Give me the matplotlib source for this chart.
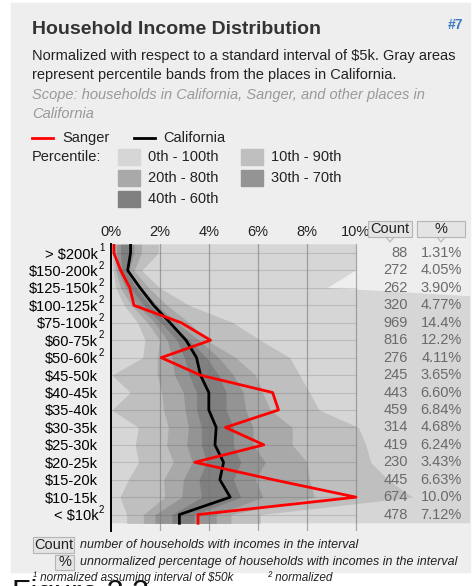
import matplotlib
matplotlib.use('Agg')
import matplotlib.pyplot as plt
import matplotlib.transforms as mtransforms
from matplotlib.patches import Rectangle, FancyBboxPatch, Polygon
from matplotlib.lines import Line2D

plt.rcParams['font.family'] = ['Liberation Sans', 'DejaVu Sans']

# income brackets, top to bottom
brackets = [r'> \$200k', r'\$150-200k', r'\$125-150k', r'\$100-125k', r'\$75-100k',
            r'\$60-75k', r'\$50-60k', r'\$45-50k', r'\$40-45k', r'\$35-40k',
            r'\$30-35k', r'\$25-30k', r'\$20-25k', r'\$15-20k', r'\$10-15k', r'< \$10k']
notes = ['1', '2', '2', '2', '2', '2', '2', '', '', '', '', '', '', '', '', '2']
counts = [88, 272, 262, 320, 969, 816, 276, 245, 443, 459, 314, 419, 230, 445, 674, 478]
pcts = ['1.31%', '4.05%', '3.90%', '4.77%', '14.4%', '12.2%', '4.11%', '3.65%',
        '6.60%', '6.84%', '4.68%', '6.24%', '3.43%', '6.63%', '10.0%', '7.12%']

# normalized percentages
sanger = [0.13, 0.41, 0.78, 0.95, 2.88, 4.07, 2.06, 3.65, 6.6, 6.84, 4.68, 6.24, 3.43, 6.63, 10.0, 3.56]
california = [0.81, 0.69, 1.2, 1.75, 2.42, 3.07, 3.5, 3.66, 4.0, 4.0, 4.3, 4.25, 4.6, 4.45, 4.87, 2.8]

# percentile bands across places in California
p0 = [0.0] * 16
p10 = [0.05, 0.1, 0.2, 0.55, 1.1, 1.4, 1.3, 0.05, 0.8, 0.04, 1.13, 1.0, 1.13, 0.72, 0.38, 0.65]
p20 = [0.15, 0.2, 0.4, 0.85, 1.5, 2.0, 1.9, 1.9, 2.08, 2.15, 2.35, 2.28, 2.55, 2.15, 2.2, 1.33]
p30 = [0.25, 0.3, 0.6, 1.1, 1.8, 2.3, 2.5, 2.6, 2.96, 3.03, 3.17, 3.1, 3.33, 2.96, 2.9, 1.8]
p40 = [0.4, 0.45, 0.8, 1.35, 2.05, 2.7, 3.0, 3.2, 3.5, 3.5, 3.7, 3.7, 3.9, 3.6, 3.7, 2.5]
p60 = [0.75, 0.6, 1.05, 1.6, 2.3, 3.2, 3.9, 4.4, 4.7, 4.7, 5.0, 5.0, 5.3, 5.0, 5.3, 3.4]
p70 = [0.95, 0.75, 1.25, 1.9, 2.7, 3.6, 4.4, 5.0, 5.4, 5.5, 5.8, 5.8, 6.3, 5.9, 6.2, 4.3]
p80 = [1.25, 0.95, 1.55, 2.3, 3.2, 3.9, 5.1, 5.9, 6.2, 6.5, 7.4, 7.4, 8.0, 8.1, 8.3, 4.9]
p90 = [1.94, 1.26, 2.0, 3.2, 5.0, 6.1, 7.3, 7.7, 8.1, 8.5, 10.1, 10.4, 10.6, 11.3, 12.3, 6.1]
p100 = [10.0, 10.0, 8.85, 21.0, 24.0, 26.0, 23.0, 20.0, 19.0, 18.0, 18.0, 17.0, 18.0, 19.0, 20.0, 22.0]

band_labels = ['0th - 100th', '10th - 90th', '20th - 80th', '30th - 70th', '40th - 60th']
band_colors = ['#d6d6d6', '#bfbfbf', '#a9a9a9', '#949494', '#808080']
xticks = [0, 2, 4, 6, 8, 10]

W, H = 474, 586
fig = plt.figure(figsize=(W / 100, H / 100), dpi=100)


def fx(x):
    return x / W


def fy(y):
    return 1 - y / H


# gray card
fig.add_artist(Rectangle((fx(11), fy(572)), (470 - 11) / W, (572 - 3) / H,
                         transform=fig.transFigure, color='#eeeeee', zorder=0))

# header text
fig.text(fx(32), fy(29), 'Household Income Distribution', fontsize=14, fontweight='bold',
         color='#333333', va='center')
fig.text(fx(463), fy(25), '#7', fontsize=10, fontweight='bold', color='#3b7bbf',
         ha='right', va='center')
fig.text(fx(32), fy(56), r'Normalized with respect to a standard interval of \$5k. Gray areas',
         fontsize=10.5, color='#222222', va='center')
fig.text(fx(32), fy(75), 'represent percentile bands from the places in California.',
         fontsize=10.5, color='#222222', va='center')
fig.text(fx(32), fy(95), 'Scope: households in California, Sanger, and other places in',
         fontsize=10.5, color='#999999', style='italic', va='center')
fig.text(fx(32), fy(114), 'California', fontsize=10.5, color='#999999', style='italic', va='center')

# legend
fig.add_artist(Line2D([fx(32), fx(53)], [fy(138), fy(138)], color='red', lw=2))
fig.text(fx(62), fy(138), 'Sanger', fontsize=10.5, color='#222222', va='center')
fig.add_artist(Line2D([fx(134), fx(155)], [fy(138), fy(138)], color='black', lw=2))
fig.text(fx(163), fy(138), 'California', fontsize=10.5, color='#222222', va='center')
fig.text(fx(32), fy(157), 'Percentile:', fontsize=10.5, color='#222222', va='center')
swatch_pos = [(118, 157), (241, 157), (118, 178), (241, 178), (118, 199)]
for (sx, sy), lab, col in zip(swatch_pos, band_labels, band_colors):
    fig.add_artist(Rectangle((fx(sx), fy(sy + 8)), 22 / W, 16 / H,
                             transform=fig.transFigure, color=col))
    fig.text(fx(sx + 30), fy(sy), lab, fontsize=10.5, color='#222222', va='center')

# main chart
x_right = (470 - 110.7) / 24.53
ax = fig.add_axes([fx(110.7), fy(531), (470 - 110.7) / W, (531 - 244.3) / H])
ax.set_facecolor('none')
ax.set_xlim(0, x_right)
ax.set_ylim(15.94, -0.5)

n = len(brackets)
yy = [-0.5] + list(range(n)) + [n - 0.5]


def ext(v):
    return [v[0]] + list(v) + [v[-1]]


bounds = [(p0, p100), (p10, p90), (p20, p80), (p30, p70), (p40, p60)]
for (lo, hi), col in zip(bounds, band_colors):
    ax.fill_betweenx(yy, ext(lo), ext(hi), color=col, lw=0, zorder=1)

ax.hlines(range(n), 0, 10, color='black', alpha=0.12, lw=0.8, zorder=2)
for xv in xticks[1:]:
    ax.axvline(xv, color='#777777', alpha=0.6, lw=0.9, zorder=2)

ax.plot(ext(california), yy, color='black', lw=2, zorder=4)
ax.plot(ext(sanger), yy, color='red', lw=2, zorder=5)

for s in ['top', 'right', 'bottom']:
    ax.spines[s].set_visible(False)
ax.spines['left'].set_linewidth(1.4)

ax.set_xticks(xticks, labels=[f'{v}%' for v in xticks])
ax.xaxis.tick_top()
ax.tick_params(axis='x', length=0, pad=4, labelsize=10.5, labelcolor='#222222')
ax.set_yticks(range(n), labels=brackets)
ax.tick_params(axis='y', length=0, pad=9, labelsize=10.5)

# superscripts next to row labels
trans = mtransforms.blended_transform_factory(fig.transFigure, ax.transData)
for i, note in enumerate(notes):
    if note:
        ax.text(fx(99), i - 0.28, note, transform=trans, fontsize=7, va='center', ha='left')

# count / percent columns
for i in range(n):
    ax.text(12.12, i, str(counts[i]), ha='right', va='center', fontsize=10.5,
            color='#6a6a6a', clip_on=False, zorder=6)
    ax.text(14.32, i, pcts[i], ha='right', va='center', fontsize=10.5,
            color='#6a6a6a', clip_on=False, zorder=6)


def button(x0, x1, y0, y1, label, tail=False):
    fig.add_artist(FancyBboxPatch((fx(x0), fy(y1)), (x1 - x0) / W, (y1 - y0) / H,
                                  boxstyle='square,pad=0', transform=fig.transFigure,
                                  facecolor='#e4e4e4', edgecolor='#b5b5b5', lw=0.8))
    if tail:
        xc = (x0 + x1) / 2
        fig.add_artist(Polygon([(fx(xc - 4), fy(y1)), (fx(xc), fy(y1 + 5)), (fx(xc + 4), fy(y1))],
                               closed=False, transform=fig.transFigure,
                               facecolor='none', edgecolor='#b5b5b5', lw=0.8))
    fig.text(fx((x0 + x1) / 2), fy((y0 + y1) / 2), label, fontsize=10.5, color='#222222',
             ha='center', va='center')


button(368, 412, 221, 237, 'Count', tail=True)
button(417, 465, 221, 237, '%', tail=True)

# explanation below chart
button(33, 74, 537, 553, 'Count')
fig.text(fx(80), fy(545), 'number of households with incomes in the interval',
         fontsize=9, style='italic', color='#222222', va='center')
button(55, 74, 555, 570, '%')
fig.text(fx(80), fy(562), 'unnormalized percentage of households with incomes in the interval',
         fontsize=9, style='italic', color='#222222', va='center')
fig.text(fx(33), fy(578), r'$^1$ normalized assuming interval of \$50k'.replace('$^1$', '\u00b9'),
         fontsize=8.5, style='italic', color='#222222', va='center')
fig.text(fx(268), fy(578), '\u00b2 normalized', fontsize=8.5, style='italic',
         color='#222222', va='center')

# caption cut off at the bottom edge
fig.text(fx(12), fy(579), 'Figure 3.3', fontsize=22, color='#111111', va='top', zorder=10)

fig.savefig('out.png', dpi=100)
